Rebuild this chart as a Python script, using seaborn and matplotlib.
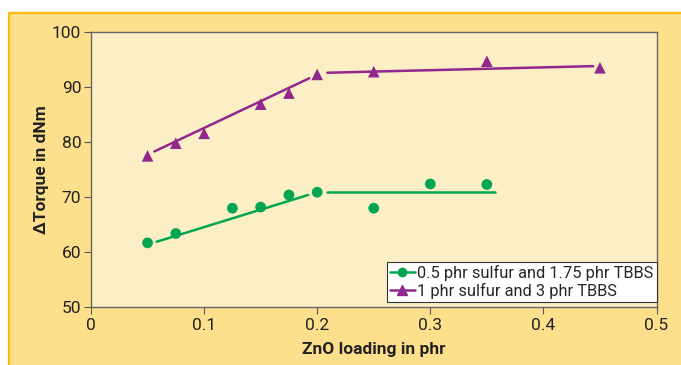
import matplotlib
matplotlib.use("Agg")
import matplotlib.pyplot as plt
from matplotlib.lines import Line2D
from matplotlib.patches import Rectangle
import seaborn as sns
import pandas as pd

# Data
zno_a = [0.05, 0.075, 0.125, 0.15, 0.175, 0.2, 0.25, 0.3, 0.35]
torque_a = [61.7, 63.4, 68.0, 68.2, 70.4, 70.9, 68.0, 72.4, 72.3]
zno_b = [0.05, 0.075, 0.1, 0.15, 0.175, 0.2, 0.25, 0.35, 0.45]
torque_b = [77.5, 79.8, 81.6, 86.9, 88.9, 92.3, 92.8, 94.7, 93.5]

# Fitted trend segments (start, end)
fit_a1_x = [0.058, 0.192]; fit_a1_y = [61.9, 70.4]
fit_a2_x = [0.209, 0.357]; fit_a2_y = [70.9, 70.9]
fit_b1_x = [0.056, 0.193]; fit_b1_y = [78.3, 91.6]
fit_b2_x = [0.209, 0.444]; fit_b2_y = [92.6, 93.8]

label_a = "0.5 phr sulfur and 1.75 phr TBBS"
label_b = "1 phr sulfur and 3 phr TBBS"
x_ticks = [0, 0.1, 0.2, 0.3, 0.4, 0.5]
x_ticklabels = ["0", "0.1", "0.2", "0.3", "0.4", "0.5"]
y_ticks = [50, 60, 70, 80, 90, 100]

green = "#00A651"
purple = "#92278F"
outer_bg = "#FEE08C"
inner_bg = "#FDEFC5"
border = "#FDB913"

sns.set_theme(style="white")
plt.rcParams["font.family"] = ["Roboto", "DejaVu Sans"]

fig = plt.figure(figsize=(6.81, 3.65), dpi=100)
fig.patch.set_facecolor("white")
# outer yellow panel
fig.patches.append(Rectangle((9/681, -0.01), 1.0, 1 - 13/365 + 0.01,
                             transform=fig.transFigure, facecolor=outer_bg,
                             edgecolor=border, linewidth=1.6, zorder=-10))

ax = fig.add_axes([91/681, 1 - 307.3/365, (656.5 - 91)/681, (307.3 - 32)/365])
ax.set_facecolor(inner_bg)

df_a = pd.DataFrame({"x": zno_a, "y": torque_a})
df_b = pd.DataFrame({"x": zno_b, "y": torque_b})

for fx, fy, c in [(fit_a1_x, fit_a1_y, green), (fit_a2_x, fit_a2_y, green),
                  (fit_b1_x, fit_b1_y, purple), (fit_b2_x, fit_b2_y, purple)]:
    sns.lineplot(x=fx, y=fy, ax=ax, color=c, linewidth=1.8, legend=False)

sns.scatterplot(data=df_a, x="x", y="y", ax=ax, color=green, marker="o",
                s=60, edgecolor="none", legend=False, zorder=3)
sns.scatterplot(data=df_b, x="x", y="y", ax=ax, color=purple, marker="^",
                s=70, edgecolor="none", legend=False, zorder=3)

ax.set_xlim(0, 0.5)
ax.set_ylim(50, 100)
ax.set_xticks(x_ticks)
ax.set_xticklabels(x_ticklabels)
ax.set_yticks(y_ticks)
ax.tick_params(axis="both", direction="out", length=5, width=0.8,
               color="#555555", labelsize=12.5, labelcolor="#222222")
ax.tick_params(axis="x", pad=3)
ax.tick_params(axis="y", pad=2)
ax.tick_params(left=True, bottom=True)
for s in ax.spines.values():
    s.set_color("#666666")
    s.set_linewidth(1.0)

ax.set_xlabel("ZnO loading in phr", fontsize=12.5, fontweight="bold",
              color="#222222", labelpad=6)
ax.set_ylabel("\u0394Torque in dNm", fontsize=12.5, fontweight="bold",
              color="#222222", labelpad=2)

handles = [Line2D([0], [0], color=green, marker="o", markersize=6, linewidth=1.8),
           Line2D([0], [0], color=purple, marker="^", markersize=7, linewidth=1.8)]
leg = ax.legend(handles, [label_a, label_b], loc="lower right",
                bbox_to_anchor=(1.0, 0.02), fontsize=11.8, frameon=True,
                fancybox=False, framealpha=1, edgecolor="#333333",
                handlelength=1.5, handletextpad=0.15, borderpad=0.2,
                labelspacing=0.1, borderaxespad=0.0)
leg.get_frame().set_linewidth(0.8)

fig.savefig("out.png", dpi=100, facecolor=fig.get_facecolor())
